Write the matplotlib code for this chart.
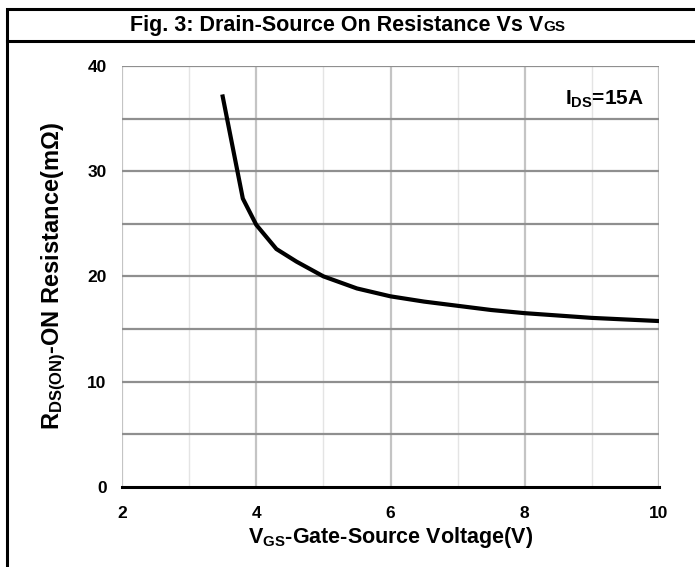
import numpy as np
import matplotlib
matplotlib.use("Agg")
import matplotlib.pyplot as plt
from matplotlib.patches import Rectangle
from matplotlib.lines import Line2D

FONT = ['Liberation Sans', 'DejaVu Sans']
plt.rcParams['font.family'] = FONT
plt.rcParams['font.weight'] = 'bold'
plt.rcParams['axes.labelweight'] = 'bold'
plt.rcParams['mathtext.fontset'] = 'custom'
plt.rcParams['mathtext.rm'] = 'Liberation Sans:bold'
plt.rcParams['mathtext.it'] = 'Liberation Sans:bold'
plt.rcParams['mathtext.bf'] = 'Liberation Sans:bold'
plt.rcParams['mathtext.default'] = 'rm'

# data
vgs = [3.5, 3.8, 4.0, 4.3, 4.6, 5.0, 5.5, 6.0, 6.5, 7.0, 7.5, 8.0, 9.0, 10.0]
rds_on = [37.1, 27.4, 24.9, 22.6, 21.4, 20.0, 18.85, 18.1, 17.6, 17.2, 16.8, 16.5, 16.05, 15.75]

x_ticks = [2, 4, 6, 8, 10]
y_ticks = [0, 10, 20, 30, 40]

W, H = 695, 567
fig = plt.figure(figsize=(W / 100, H / 100), dpi=100)

# outer frame and title separator
fig.add_artist(Rectangle((6.7 / W, -0.05), 1.0, 1 - 9.3 / H + 0.05, transform=fig.transFigure,
                         fill=False, edgecolor='black', linewidth=2.2))
fig.add_artist(Line2D([6.7 / W, 1.0], [1 - 41 / H, 1 - 41 / H], transform=fig.transFigure,
                      color='black', linewidth=2.2))

ax = fig.add_axes([122 / W, 1 - 486.7 / H, (659 - 122) / W, (486.7 - 66) / H])
ax.set_xlim(2, 10)
ax.set_ylim(0, 40)

# grid
for x in [3, 5, 7, 9]:
    ax.axvline(x, color='#e4e4e4', linewidth=1.0, zorder=1)
for x in [2, 4, 6, 8, 10]:
    ax.axvline(x, color='#c4c4c4', linewidth=1.6, zorder=1)
for y in np.arange(5, 41, 5):
    ax.axhline(y, color='#8f8f8f', linewidth=1.6, zorder=2)

ax.plot(vgs, rds_on, color='black', linewidth=3.0, zorder=5, solid_joinstyle='miter')

for s in ['top', 'right', 'left']:
    ax.spines[s].set_visible(False)
ax.spines['bottom'].set_color('black')
ax.spines['bottom'].set_linewidth(2.2)
ax.spines['bottom'].set_zorder(6)

ax.set_xticks(x_ticks)
ax.set_yticks(y_ticks)
ax.tick_params(axis='both', length=0, labelsize=12.5)
ax.tick_params(axis='x', pad=14)
ax.tick_params(axis='y', pad=11)

ax.set_xlabel('$V_{GS}$-Gate-Source Voltage(V)', fontsize=15.5, labelpad=3)
ax.set_ylabel('$R_{DS(ON)}$-ON Resistance(m\u03a9)', fontsize=17, labelpad=14)

ax.text(9.78, 36.8, '$I_{DS}$=15A', ha='right', va='center', fontsize=15, zorder=7)

# title with small "GS" after the V
t1 = fig.text(0.5, 1 - 24 / H, 'Fig. 3: Drain-Source On Resistance Vs V', ha='center',
              va='baseline', fontsize=15.5)
fig.canvas.draw()
bb = t1.get_window_extent()
t2 = fig.text(0, 0, 'GS', fontsize=11, va='baseline', ha='left')
bb2 = t2.get_window_extent(renderer=fig.canvas.get_renderer())
total = bb.width + bb2.width
x0 = (W - total) / 2
t1.set_ha('left')
t1.set_position((x0 / W, 1 - 31 / H))
t2.set_position(((x0 + bb.width) / W, 1 - 31 / H))

fig.savefig('out.png', dpi=100)
